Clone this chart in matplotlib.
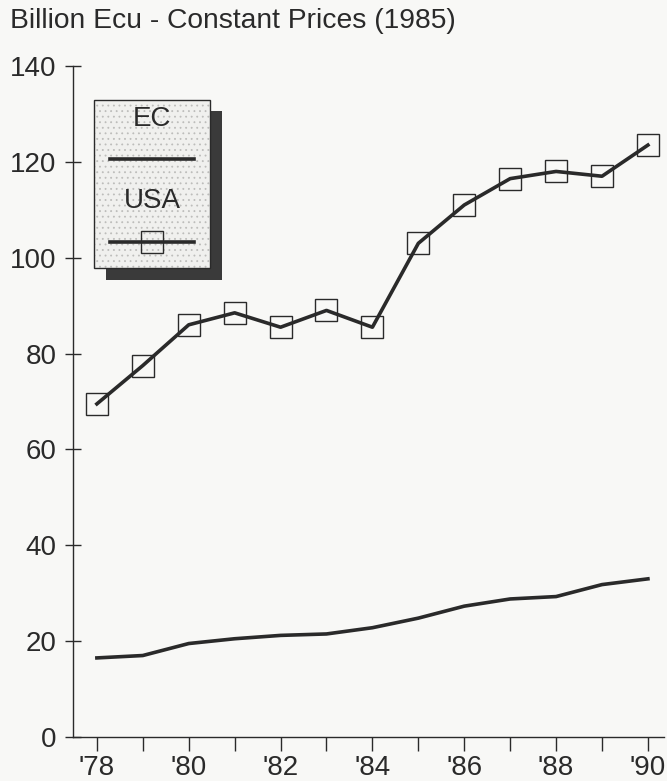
import matplotlib
matplotlib.use("Agg")
import matplotlib.pyplot as plt
from matplotlib.patches import Rectangle
from matplotlib.lines import Line2D

plt.rcParams['font.family'] = ['Liberation Sans', 'DejaVu Sans']
plt.rcParams['hatch.linewidth'] = 0.6

# values (billion ECU, 1985 prices)
years = [78, 79, 80, 81, 82, 83, 84, 85, 86, 87, 88, 89, 90]
usa = [69.5, 77.5, 86, 88.5, 85.5, 89, 85.5, 103, 111, 116.5, 118, 117, 123.5]
ec = [16.5, 17, 19.5, 20.5, 21.2, 21.5, 22.8, 24.8, 27.3, 28.8, 29.3, 31.8, 33]
xtick_years = [78, 80, 82, 84, 86, 88, 90]
xtick_labels = ["'78", "'80", "'82", "'84", "'86", "'88", "'90"]
yticks = [0, 20, 40, 60, 80, 100, 120, 140]

ink = '#2a2a2a'
paper = '#f8f8f6'

W, H = 667, 781
fig = plt.figure(figsize=(W / 100, H / 100), dpi=100, facecolor=paper)
ax = fig.add_axes([73 / W, 1 - 737 / H, (664 - 73) / W, (737 - 66) / H])
ax.set_facecolor(paper)

ax.plot(years, ec, color=ink, lw=2.6, solid_joinstyle='round')
ax.plot(years, usa, color=ink, lw=2.6, marker='s', markersize=16.5,
        markerfacecolor='none', markeredgecolor=ink, markeredgewidth=1.0)

ax.set_xlim(77.48, 90.35)
ax.set_ylim(0, 140)
ax.set_xticks(years, minor=True)
ax.set_xticks(xtick_years)
ax.set_xticklabels(xtick_labels)
ax.set_yticks(yticks)
ax.spines['top'].set_visible(False)
ax.spines['right'].set_visible(False)
for s in ['left', 'bottom']:
    ax.spines[s].set_color(ink)
    ax.spines[s].set_linewidth(1.0)
ax.tick_params(axis='y', direction='inout', length=12, width=1, colors=ink,
               labelsize=20, pad=6)
ax.tick_params(axis='x', which='both', direction='out', length=10, width=1,
               colors=ink, labelsize=20, pad=3)

fig.text(10 / W, 1 - 21 / H, 'Billion Ecu - Constant Prices (1985)',
         fontsize=20.3, color=ink, va='center', ha='left')

# legend box with drop shadow, labels above keys
def fx(px):
    return px / W

def fy(py):
    return 1 - py / H

fig.patches.append(Rectangle((fx(106), fy(280)), fx(222) - fx(106), fy(111) - fy(280),
                             transform=fig.transFigure, facecolor='#3a3a3a',
                             edgecolor='none', zorder=5))
fig.patches.append(Rectangle((fx(94), fy(268)), fx(210) - fx(94), fy(100) - fy(268),
                             transform=fig.transFigure, facecolor='#f0f0ee',
                             edgecolor='#bdbdbb', lw=0, hatch='...', zorder=6))
fig.patches.append(Rectangle((fx(94), fy(268)), fx(210) - fx(94), fy(100) - fy(268),
                             transform=fig.transFigure, facecolor='none',
                             edgecolor=ink, lw=1.0, zorder=6.5))
fig.text(fx(152), fy(119), 'EC', fontsize=20, color=ink, ha='center', va='center', zorder=7)
fig.lines.append(Line2D([fx(110), fx(194)], [fy(159), fy(159)], transform=fig.transFigure,
                        color=ink, lw=2.6, zorder=7))
fig.text(fx(152), fy(201), 'USA', fontsize=20, color=ink, ha='center', va='center', zorder=7)
fig.lines.append(Line2D([fx(110), fx(194)], [fy(242), fy(242)], transform=fig.transFigure,
                        color=ink, lw=2.6, zorder=7))
fig.lines.append(Line2D([fx(152)], [fy(242)], transform=fig.transFigure, marker='s',
                        markersize=16.5, markerfacecolor='none', markeredgecolor=ink,
                        markeredgewidth=1.0, zorder=8))

fig.savefig('out.png', dpi=100, facecolor=paper)
